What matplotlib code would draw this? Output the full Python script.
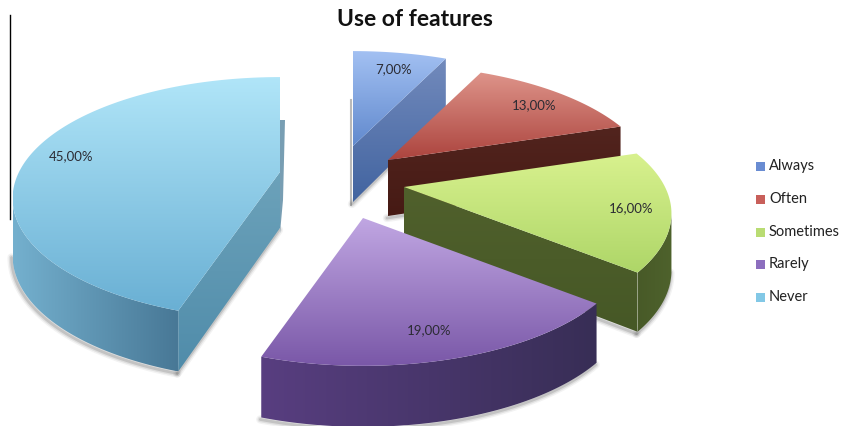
import numpy as np
import matplotlib
matplotlib.use("Agg")
import matplotlib.pyplot as plt
from matplotlib.patches import Polygon, Rectangle

plt.rcParams['font.family'] = ['Lato', 'DejaVu Sans']

# data
labels = ["Always", "Often", "Sometimes", "Rarely", "Never"]
values = [7, 13, 16, 19, 45]

# colours (0-255)
top_hi = [(162, 192, 242), (222, 148, 138), (216, 241, 142), (192, 166, 226), (176, 229, 248)]
top_lo = [(98, 138, 206), (172, 68, 62), (174, 214, 104), (122, 88, 168), (106, 176, 212)]
arc_left = [(70, 100, 155), (75, 30, 25), (72, 90, 40), (88, 62, 128), (116, 176, 206)]
arc_right = [(70, 100, 155), (75, 30, 25), (78, 98, 44), (56, 46, 86), (72, 120, 150)]
face_hi = [(114, 138, 188), (82, 36, 30), (80, 96, 44), (70, 50, 100), (108, 162, 186)]
face_lo = [(66, 100, 160), (70, 26, 20), (70, 88, 38), (70, 50, 100), (80, 140, 170)]
swatch = [(105, 140, 210), (200, 95, 90), (185, 220, 115), (140, 110, 190), (130, 200, 230)]

# layout in pixels
apex = [(353, 146), (388, 160), (404, 187), (363, 218), (280, 172)]
label_pos = [(394, 69), (534, 105), (631, 208), (429, 330), (71, 156)]
legend_y = [166, 199, 232, 264, 297]

# perspective of the pie plane
RX, RY, K = 261, 115.6, 0.218


def rgb(c):
    return np.array(c) / 255


def project(t):
    d = 1 + K * np.cos(t)
    return RX * np.sin(t) / d, -RY * np.cos(t) / d


def depth(t):
    return 56 - 5 * np.cos(t)


def gradient_fill(ax, pts, c0, c1, horizontal, z):
    pts = np.asarray(pts)
    poly = Polygon(pts, fc='none', ec='none', transform=ax.transData, zorder=z)
    ax.add_patch(poly)
    g = np.linspace(0, 1, 64)
    g = g[None, :, None] if horizontal else g[:, None, None]
    img = rgb(c0) + (rgb(c1) - rgb(c0)) * g
    im = ax.imshow(img, extent=(pts[:, 0].min(), pts[:, 0].max(), pts[:, 1].max(), pts[:, 1].min()),
                   origin='upper', aspect='auto', interpolation='bilinear', zorder=z)
    im.set_clip_path(poly)


def shadow(ax, x, y, z):
    for lw, al in ((6, 0.07), (4, 0.12), (2, 0.2)):
        ax.plot(x, y, color='#555555', lw=lw, alpha=al, solid_capstyle='round', zorder=z)


fig = plt.figure(figsize=(8.42, 4.26), dpi=100)
ax = fig.add_axes([0, 0, 1, 1])

fractions = np.array(values) / sum(values)
ends = np.cumsum(fractions) * 2 * np.pi
starts = ends - fractions * 2 * np.pi
apex_depth = depth(np.pi / 2)

for i in range(len(values)):
    z = 10 * (i + 1)
    cx, cy = apex[i]
    ts = np.linspace(starts[i], ends[i], 200)
    dx, dy = project(ts)
    xs = cx + dx
    ys = cy + dy
    dp = depth(ts)

    # radial walls, only the ones facing the viewer
    radials = [((cx, cy), (xs[0], ys[0]), apex_depth, dp[0]),
               ((xs[-1], ys[-1]), (cx, cy), dp[-1], apex_depth)]
    for (x0, y0), (x1, y1), d0, d1 in radials:
        if x1 < x0 - 1:
            shadow(ax, [x0 - 1, x1 - 1], [y0 + d0 + 2, y1 + d1 + 2], z)
            gradient_fill(ax, [(x0, y0), (x1, y1), (x1, y1 + d1), (x0, y0 + d0)],
                          face_hi[i], face_lo[i], False, z + 1)

    # outer wall
    vis = np.nonzero(np.diff(xs) < 0)[0]
    if len(vis):
        a, b = vis[0], vis[-1] + 2
        shadow(ax, xs[a:b] - 1, ys[a:b] + dp[a:b] + 2, z)
        wall = np.r_[np.c_[xs[a:b], ys[a:b]], np.c_[xs[a:b], ys[a:b] + dp[a:b]][::-1]]
        gradient_fill(ax, wall, arc_left[i], arc_right[i], True, z + 1)

    # top face
    top = np.r_[[(cx, cy)], np.c_[xs, ys]]
    gradient_fill(ax, top, top_hi[i], top_lo[i], False, z + 2)

    ax.text(label_pos[i][0], label_pos[i][1], f"{values[i]:.2f}".replace('.', ',') + "%",
            ha='center', va='center', fontsize=9.5, color='#2b2b33', zorder=100)

# thin back edges that stick out behind the first and last slice
ax.add_patch(Polygon([(280, 120), (285, 120), (283, 200), (280, 233)], fc=(0.47, 0.62, 0.70), ec='none', zorder=5))
ax.plot([351, 351], [100, 205], color='#777777', lw=1.5, alpha=0.5, zorder=5)

ax.text(415, 19, "Use of features", ha='center', va='center', fontsize=16.5,
        fontweight='bold', color='#111111')

# stray line on the left of the picture
ax.plot([9.5, 9.5], [15, 219], color='black', lw=1, zorder=100)

# legend
for i, name in enumerate(labels):
    ax.add_patch(Rectangle((755.5, legend_y[i] - 4.5), 9, 9, fc=rgb(swatch[i]), ec='none', zorder=100))
    ax.text(769, legend_y[i], name, ha='left', va='center', fontsize=10.5, color='#222222', zorder=100)

ax.set_xlim(0, 842)
ax.set_ylim(426, 0)
ax.axis('off')
fig.savefig("out.png", dpi=100)
